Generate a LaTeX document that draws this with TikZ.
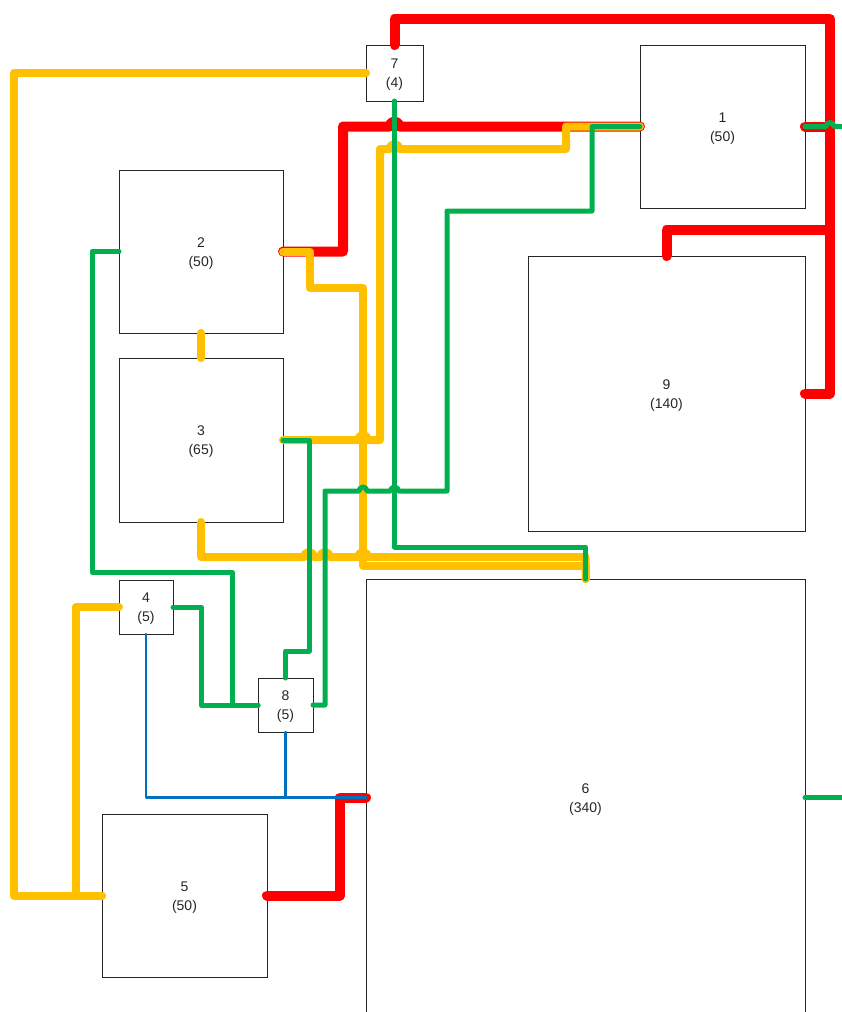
\documentclass[tikz,border=0pt]{standalone}
\usepackage{fontspec}
\setmainfont{Liberation Sans}
\definecolor{cred}{HTML}{FF0000}
\definecolor{cyel}{HTML}{FFC000}
\definecolor{cgrn}{HTML}{00B050}
\definecolor{cblu}{HTML}{0070C0}
\begin{document}
\begin{tikzpicture}[x=1pt,y=-1pt,
  box/.style={draw=black!85,line width=0.9pt,inner sep=0pt,outer sep=0pt,align=center,
    font=\fontsize{14}{19}\selectfont,text=black!85,text height=32.5pt},
  wire/.style={line cap=round,line join=round},
  redw/.style={wire,draw=cred,line width=10pt},
  yelw/.style={wire,draw=cyel,line width=8pt},
  grnw/.style={wire,draw=cgrn,line width=5pt},
  bluw/.style={wire,draw=cblu,line width=2.4pt}]
\useasboundingbox (0,0) rectangle (841,1012);
% boxes
\node[box,minimum width=57pt,minimum height=56pt] (n7) at (394.5,73) {7\\(4)};
\node[box,minimum width=165pt,minimum height=163pt] (n1) at (722.5,126.5) {1\\(50)};
\node[box,minimum width=164pt,minimum height=163pt] (n2) at (201,251.5) {2\\(50)};
\node[box,minimum width=164pt,minimum height=164pt] (n3) at (201,440) {3\\(65)};
\node[box,minimum width=277pt,minimum height=275pt] (n9) at (666.5,393.5) {9\\(140)};
\node[box,minimum width=54pt,minimum height=54pt] (n4) at (146,607) {4\\(5)};
\node[box,minimum width=55pt,minimum height=54pt] (n8) at (285.5,705) {8\\(5)};
\node[box,minimum width=165pt,minimum height=163pt] (n5) at (184.5,895.5) {5\\(50)};
\node[box,minimum width=439pt,minimum height=437pt] (n6) at (585.5,797.5) {6\\(340)};
\coordinate (rj) at (830,230);
\coordinate (e1) at (848,126.5);
\coordinate (e6) at (848,797.5);
% red
\draw[redw] (n7.north) |- (830,19) |- (n9.east);
\draw[redw] (rj) -| (n9.north);
\draw[redw] (n1.east) -- (830,126.5);
\draw[redw] (n2.east) -| (343,126.5) -- (389.5,126.5) arc[start angle=180,end angle=360,radius=5] -- (n1.west);
\draw[redw] (n5.east) -| (340,797.5) -- (n6.west);
% yellow
\draw[yelw] (n7.west) -| (14,895.5) -- (n5.west);
\draw[yelw] (n4.west) -| (76,895.5) -- (n5.west);
\draw[yelw] (n2.south) -- (n3.north);
\draw[yelw] (n2.east) -| (310,288) -| (363,565.5) -| (n6.north);
\draw[yelw] (n3.east) -- (358,440) arc[start angle=180,end angle=360,radius=5] -- (380,440)
  |- (389.5,149) arc[start angle=180,end angle=360,radius=5] -- (566,149) |- (n1.west);
\draw[yelw] (n3.south) |- (304,557) arc[start angle=180,end angle=360,radius=5]
  -- (320,557) arc[start angle=180,end angle=360,radius=5]
  -- (358,557) arc[start angle=180,end angle=360,radius=5]
  -- (585.5,557) -- (n6.north);
% green
\draw[grnw] (n7.south) -- (394.5,547) -| (n6.north);
\draw[grnw] (n1.west) -| (592,211) -| (447,491) -- (398.5,491)
  arc[start angle=0,end angle=-180,radius=4] -- (367,491)
  arc[start angle=0,end angle=-180,radius=4] -- (325,491) |- (n8.east);
\draw[grnw] (n3.east) -| (309,651) -| (n8.north);
\draw[grnw] (n2.west) -| (92,572) -| (232,705) -- (n8.west);
\draw[grnw] (n4.east) -| (201,705) -- (n8.west);
\draw[grnw] (n1.east) -- (826,126.5) arc[start angle=180,end angle=360,radius=4] -- (e1);
\draw[grnw] (n6.east) -- (e6);
% blue
\draw[bluw] (n4.south) |- (n6.west);
\draw[bluw] (n8.south) |- (n6.west);
\end{tikzpicture}
\end{document}
